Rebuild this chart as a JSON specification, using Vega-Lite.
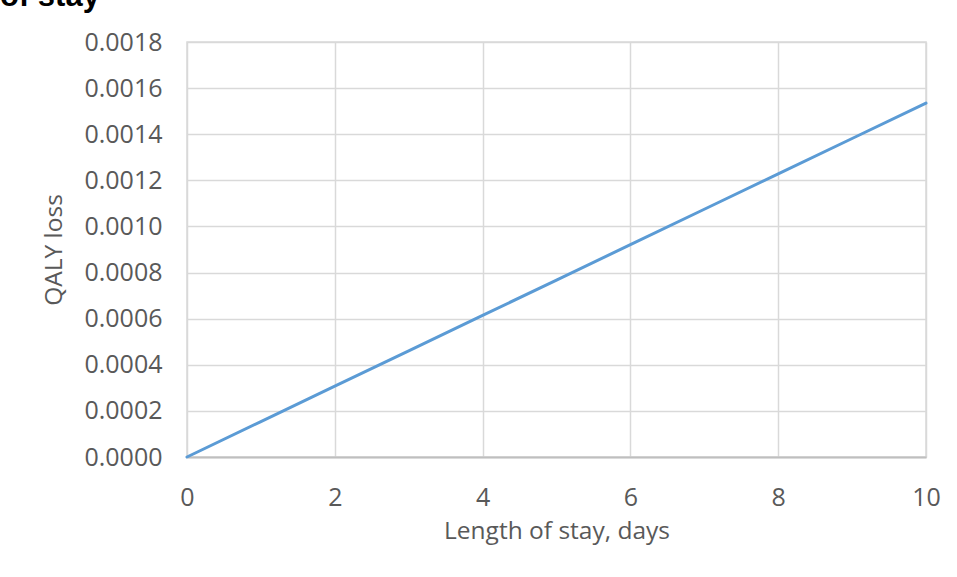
{
  "$schema": "https://vega.github.io/schema/vega-lite/v6.json",
  "width": 739,
  "height": 415,
  "autosize": {"type": "none"},
  "padding": {"left": 187, "top": 42, "right": 31, "bottom": 120},
  "background": "white",
  "title": {
    "text": "of stay",
    "anchor": "start",
    "frame": "group",
    "dx": -187,
    "dy": 3,
    "offset": 20,
    "font": "Liberation Sans",
    "fontSize": 31,
    "fontWeight": "bold",
    "color": "#000000"
  },
  "data": {
    "values": [
      {"days": 0, "qaly": 0.0},
      {"days": 1, "qaly": 0.0001535},
      {"days": 2, "qaly": 0.000307},
      {"days": 3, "qaly": 0.0004605},
      {"days": 4, "qaly": 0.000614},
      {"days": 5, "qaly": 0.0007675},
      {"days": 6, "qaly": 0.000921},
      {"days": 7, "qaly": 0.0010745},
      {"days": 8, "qaly": 0.001228},
      {"days": 9, "qaly": 0.0013815},
      {"days": 10, "qaly": 0.001535}
    ]
  },
  "mark": {"type": "line", "color": "#5b9bd5", "strokeWidth": 3, "strokeCap": "round"},
  "encoding": {
    "x": {
      "field": "days",
      "type": "quantitative",
      "scale": {"domain": [0, 10], "nice": false, "zero": false},
      "axis": {
        "title": "Length of stay, days",
        "values": [0, 2, 4, 6, 8, 10],
        "grid": true,
        "gridColor": "#d9d9d9",
        "gridWidth": 1.5,
        "domainColor": "#bfbfbf",
        "domainWidth": 2,
        "ticks": false,
        "labelPadding": 28,
        "labelBaseline": "top",
        "labelFlush": false,
        "titlePadding": 9,
        "titleBaseline": "top"
      }
    },
    "y": {
      "field": "qaly",
      "type": "quantitative",
      "scale": {"domain": [0, 0.0018], "nice": false},
      "axis": {
        "title": "QALY loss",
        "values": [0, 0.0002, 0.0004, 0.0006, 0.0008, 0.001, 0.0012, 0.0014, 0.0016, 0.0018],
        "format": ".4f",
        "grid": true,
        "gridColor": "#d9d9d9",
        "gridWidth": 1.5,
        "domain": false,
        "ticks": false,
        "labelPadding": 25,
        "labelFlush": false,
        "titlePadding": 17
      }
    }
  },
  "config": {
    "view": {"stroke": "#d9d9d9", "strokeWidth": 1.5},
    "axis": {
      "labelFont": "Open Sans",
      "labelFontSize": 25,
      "labelColor": "#595959",
      "titleFont": "Open Sans",
      "titleFontSize": 24.5,
      "titleFontWeight": "normal",
      "titleColor": "#595959"
    }
  }
}
